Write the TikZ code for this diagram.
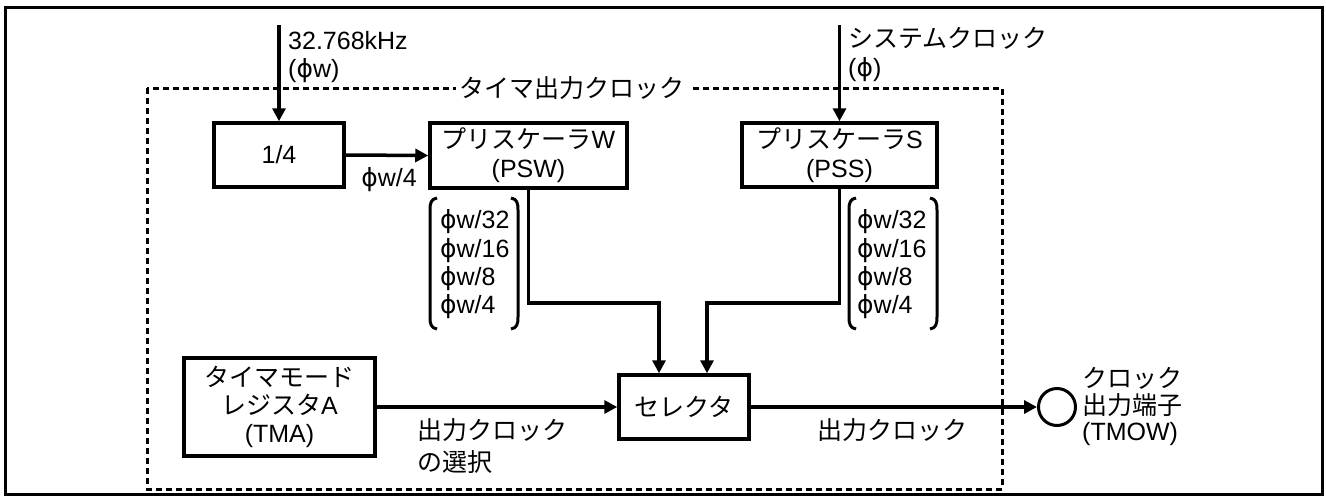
\documentclass[tikz,border=0pt]{standalone}
\usepackage{fontspec}
\setmainfont{Liberation Sans}
\newfontfamily\jp{Noto Sans CJK JP}
\newfontfamily\phfont{DejaVu Sans}
\usetikzlibrary{arrows.meta}
\newcommand\J[1]{{\jp #1}}
\newcommand\ph{{\phfont ϕ}}
\newcommand\fs{\fontsize{25}{28}\selectfont}
\begin{document}
\begin{tikzpicture}[x=1pt,y=-1pt,
  blk/.style={draw, line width=3.5pt, inner sep=0pt, align=center, font=\fs},
  lab/.style={inner sep=0pt, font=\fs},
  conn/.style={line width=3.5pt, -{Triangle[length=13pt,width=13pt]}},
  brk/.style={line width=3pt},
  dframe/.style={line width=3pt, dash pattern=on 6pt off 4pt}]
\useasboundingbox (0,0) rectangle (1326,501);
% frames
\draw[line width=3pt] (5,7) rectangle (1322,494);
\draw[dframe] (147,88) rectangle (1002,489);
\node[lab, fill=white, inner xsep=4pt, inner ysep=2pt] (title) at (572,88) {\J{タイマ出力クロック}};
% blocks
\node[blk, minimum width=130pt, minimum height=64pt] (div) at (279,155) {1/4};
\node[blk, minimum width=197pt, minimum height=65pt, font=\fontsize{25}{29}\selectfont] (psw) at (528.5,155.5) {\J{プリスケーラ}W\\(PSW)};
\node[blk, minimum width=195pt, minimum height=64pt, font=\fontsize{25}{29}\selectfont] (pss) at (839.5,155) {\J{プリスケーラ}S\\(PSS)};
\node[blk, minimum width=191pt, minimum height=98pt] (tma) at (279.5,407) {\J{タイマモード}\\\J{レジスタ}A\\(TMA)};
\node[blk, minimum width=130pt, minimum height=64pt] (sel) at (684,407) {\J{セレクタ}};
\node[draw, circle, line width=3pt, minimum size=37pt, inner sep=0pt] (pin) at (1057,407) {};
% connectors
\coordinate (in1) at (279,25);
\coordinate (in2) at (839.5,25);
\coordinate (j1) at (659,303);
\coordinate (j2) at (707,303);
\draw[conn] (in1) -- (div.north);
\draw[conn] (in2) -- (pss.north);
\draw[conn] (div.east) -- (psw.west);
\draw[conn] (psw.south) |- (j1) -- (j1 |- sel.north);
\draw[conn] (pss.south) |- (j2) -- (j2 |- sel.north);
\draw[conn] (tma.east) -- (sel.west);
\draw[conn] (sel.east) -- (pin.west);
% labels
\node[lab, anchor=west, align=left] (l1) at (288,57) {32.768kHz\\(\ph w)};
\node[lab, anchor=west, align=left, font=\fontsize{25}{29}\selectfont] (l2) at (848,55) {\J{システムクロック}\\(\ph)};
\node[lab] (l3) at (389,180) {\ph w/4};
\node[lab, anchor=west, align=left, font=\fontsize{25}{28.3}\selectfont] (fw) at (440,264.5) {\ph w/32\\\ph w/16\\\ph w/8\\\ph w/4};
\node[lab, anchor=west, align=left, font=\fontsize{25}{28.3}\selectfont] (fs) at (857,264.5) {\ph w/32\\\ph w/16\\\ph w/8\\\ph w/4};
\node[lab, anchor=west, align=left, font=\fontsize{25}{32}\selectfont] (l4) at (417,446) {\J{出力クロック}\\\J{の選択}};
\node[lab] (l5) at (892,430) {\J{出力クロック}};
\node[lab, anchor=west, align=left, font=\fontsize{25}{26.5}\selectfont] (l6) at (1082,406.5) {\J{クロック}\\\J{出力端子}\\(TMOW)};
% brackets
\draw[brk] (437,198) .. controls (431,199) and (430,203) .. (430,210) -- (430,317) .. controls (430,324) and (431,328) .. (437,329);
\draw[brk] (511,198) .. controls (517,199) and (518,203) .. (518,210) -- (518,317) .. controls (518,324) and (517,328) .. (511,329);
\draw[brk] (856,198) .. controls (850,199) and (849,203) .. (849,210) -- (849,317) .. controls (849,324) and (850,328) .. (856,329);
\draw[brk] (930,198) .. controls (936,199) and (937,203) .. (937,210) -- (937,317) .. controls (937,324) and (936,328) .. (930,329);
\end{tikzpicture}
\end{document}
